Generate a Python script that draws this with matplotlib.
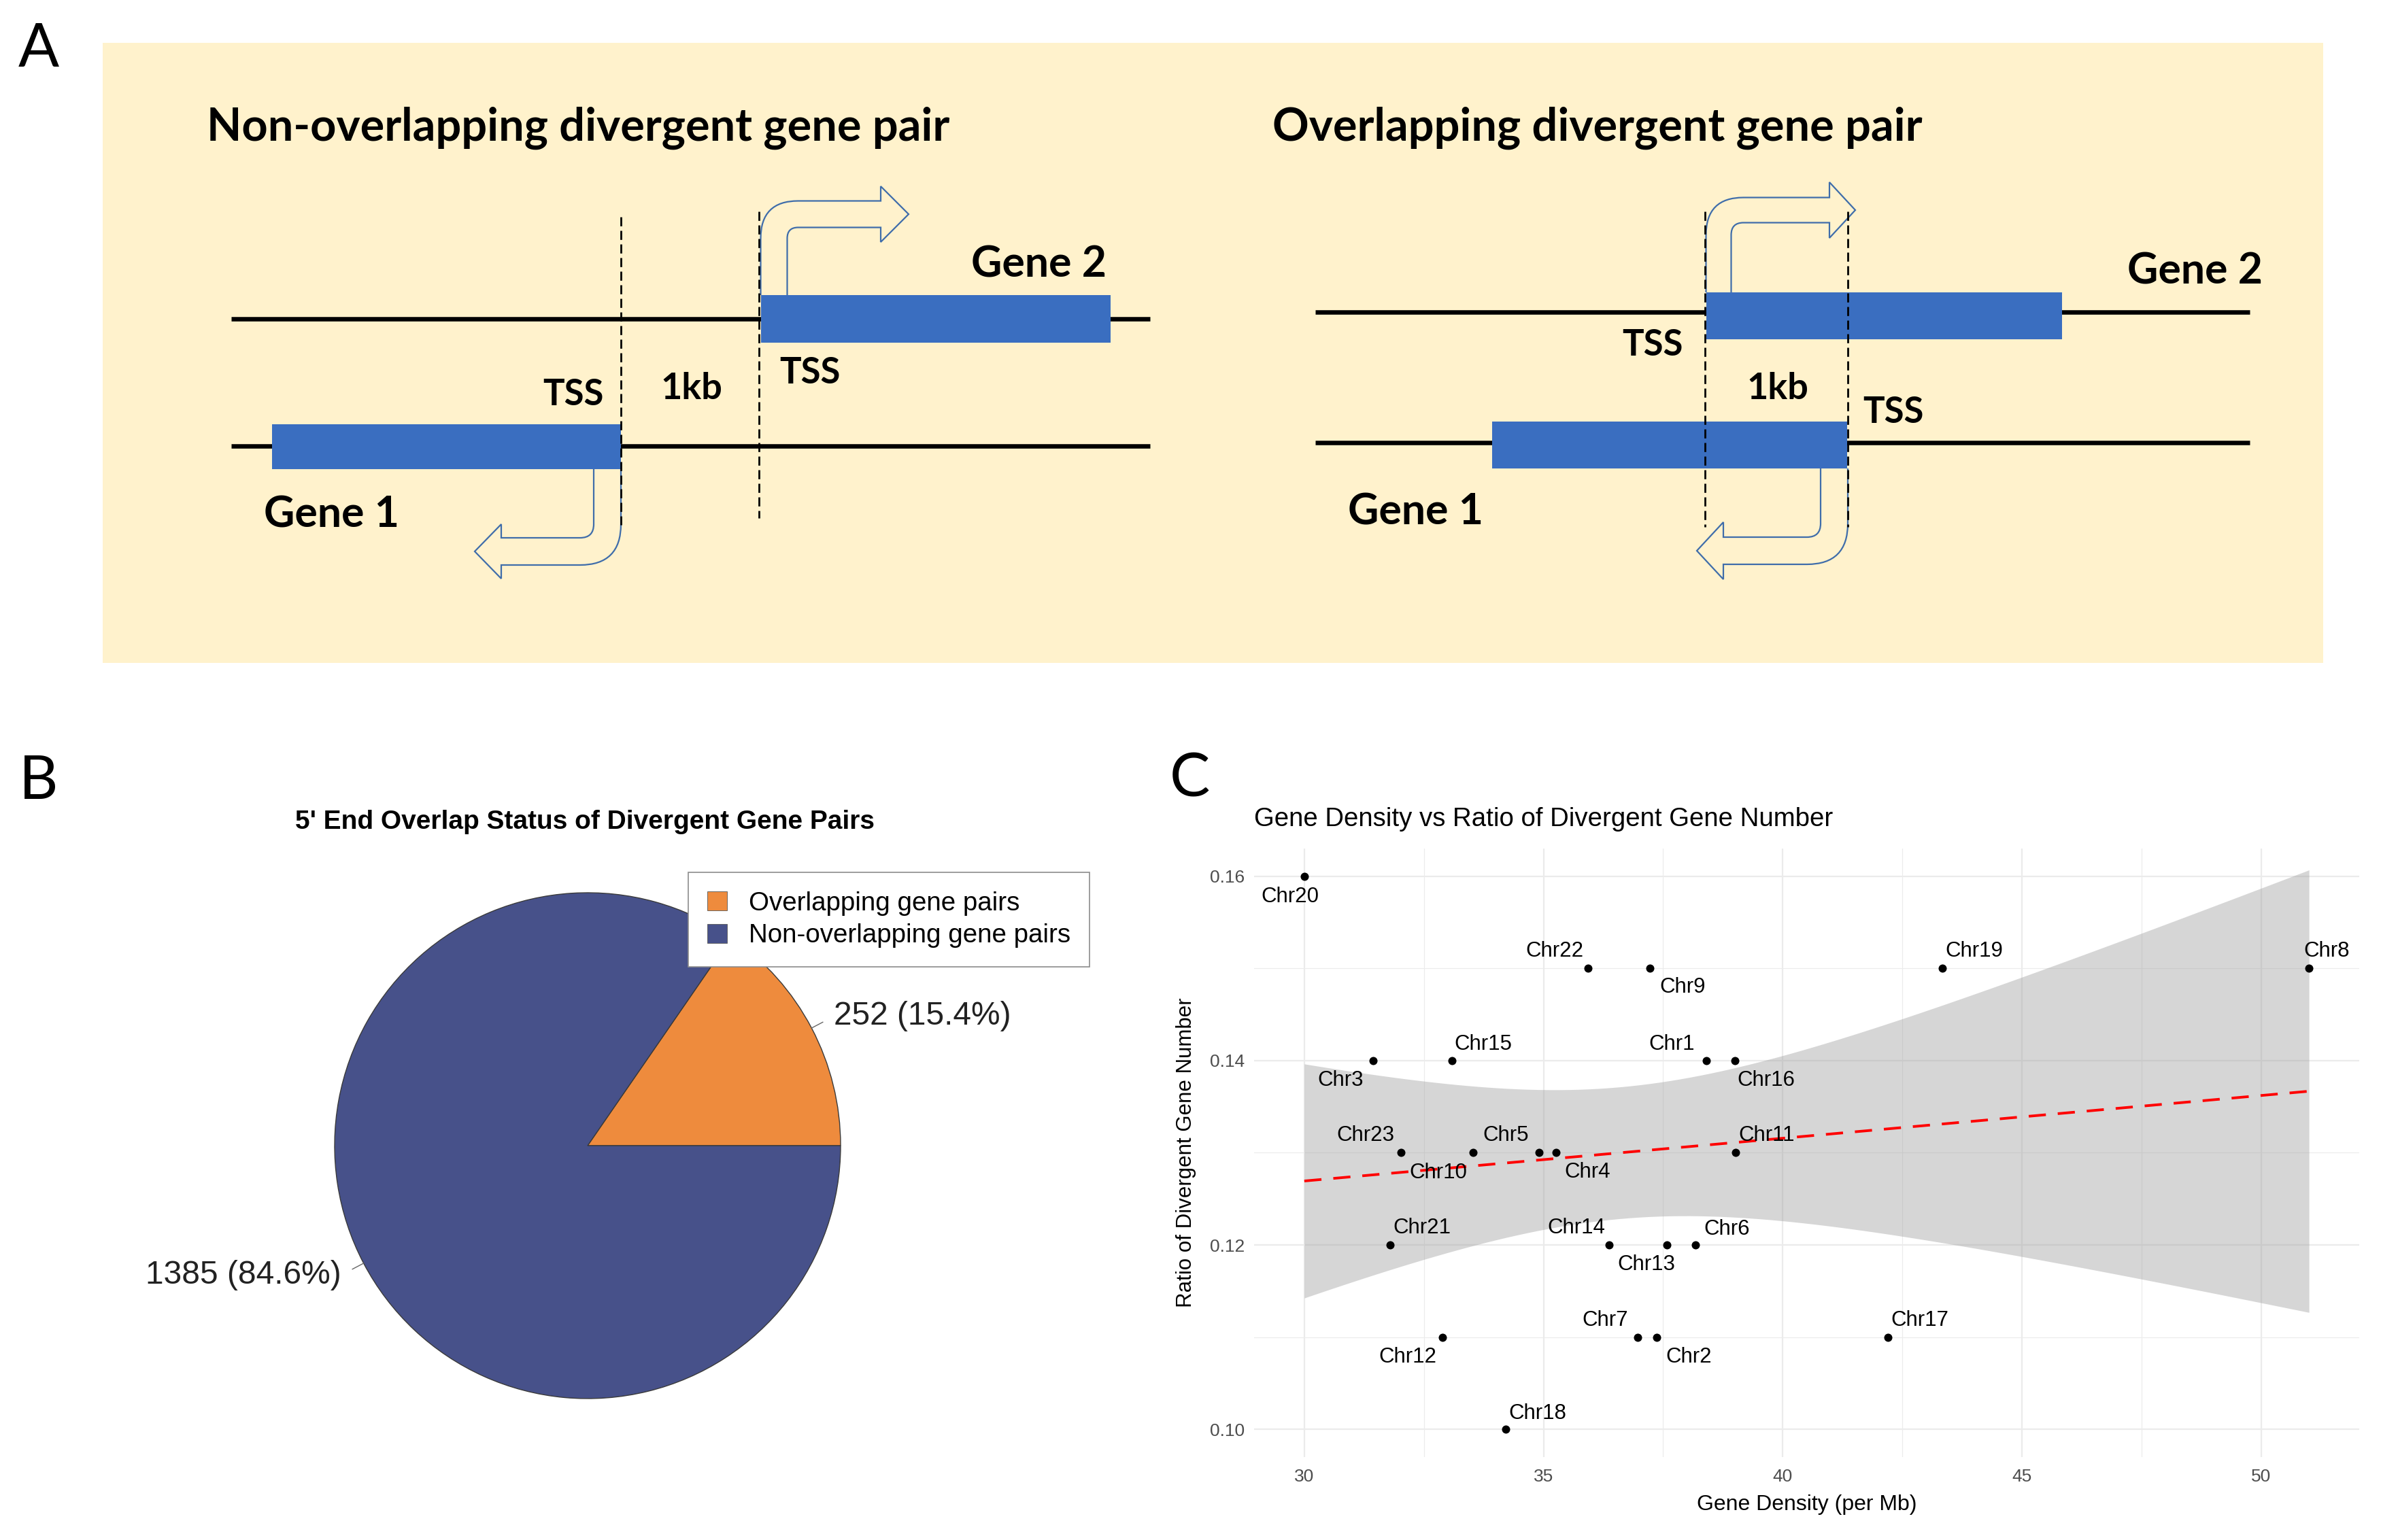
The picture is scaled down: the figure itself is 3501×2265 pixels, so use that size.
import numpy as np
import matplotlib
matplotlib.use("Agg")
import matplotlib.pyplot as plt
from matplotlib.patches import Rectangle, PathPatch
from matplotlib.path import Path

# ---- panel B data
pie_labels = ['Overlapping gene pairs', 'Non-overlapping gene pairs']
pie_counts = [252, 1385]
pie_colors = ['#EE8B3D', '#47518A']

# ---- panel C data
chroms = ['Chr20', 'Chr22', 'Chr9', 'Chr19', 'Chr8', 'Chr3', 'Chr15', 'Chr1', 'Chr16',
          'Chr23', 'Chr10', 'Chr5', 'Chr4', 'Chr11', 'Chr21', 'Chr14', 'Chr13', 'Chr6',
          'Chr12', 'Chr7', 'Chr2', 'Chr17', 'Chr18']
gene_density = [30.0, 35.93, 37.22, 43.34, 51.0, 31.44, 33.09, 38.41, 39.0,
                32.02, 33.53, 34.91, 35.26, 39.01, 31.8, 36.37, 37.58, 38.18,
                32.89, 36.97, 37.36, 42.2, 34.21]
div_ratio = [0.16, 0.15, 0.15, 0.15, 0.15, 0.14, 0.14, 0.14, 0.14,
             0.13, 0.13, 0.13, 0.13, 0.13, 0.12, 0.12, 0.12, 0.12,
             0.11, 0.11, 0.11, 0.11, 0.10]
x_ticks = [30, 35, 40, 45, 50]
y_ticks = [0.10, 0.12, 0.14, 0.16]

# label offsets (pixels, right/down positive) for the repelled chromosome labels
label_off = {'Chr20': (-21, 30), 'Chr22': (-49, -25), 'Chr9': (48, 28), 'Chr19': (47, -25),
             'Chr8': (26, -25), 'Chr3': (-48, 29), 'Chr15': (46, -24), 'Chr1': (-51, -24),
             'Chr16': (46, 29), 'Chr23': (-52, -25), 'Chr10': (-51, 30), 'Chr5': (-49, -25),
             'Chr4': (46, 29), 'Chr11': (46, -25), 'Chr21': (46, -25), 'Chr14': (-48, -25),
             'Chr13': (-30, 29), 'Chr6': (46, -23), 'Chr12': (-51, 29), 'Chr7': (-48, -25),
             'Chr2': (48, 29), 'Chr17': (47, -25), 'Chr18': (47, -23)}

W, H, DPI = 3501, 2265, 100
PT = 72 / DPI  # points per pixel
fig = plt.figure(figsize=(W / DPI, H / DPI), dpi=DPI)
fig.patch.set_facecolor('white')

cv = fig.add_axes([0, 0, 1, 1])
cv.set_xlim(0, W)
cv.set_ylim(H, 0)
cv.axis('off')

SCH = 'Lato'
ARIAL = 'Liberation Sans'
BLUE = '#3A6EC0'
ARROW = '#3F6DAA'

# ================= panel A (schematic)
cv.add_patch(Rectangle((151, 63), 3416 - 151, 975 - 63, fc='#FFF2CC', ec='none', zorder=0))


def bent_arrow(ax, xc, ys, yc, tx, hx, hh, w=39, r=55):
    dv = np.sign(yc - ys)
    dh = np.sign(tx - xc)
    xo, xi = xc - dh * w / 2, xc + dh * w / 2
    yo, yi = yc + dv * w / 2, yc - dv * w / 2
    ri = max(r - w, 8)
    verts = [(xo, ys), (xo, yo - dv * r), (xo, yo), (xo + dh * r, yo),
             (hx, yo), (hx, yc + dv * hh), (tx, yc), (hx, yc - dv * hh), (hx, yi),
             (xi + dh * ri, yi), (xi, yi), (xi, yi - dv * ri), (xi, ys)]
    codes = [Path.MOVETO, Path.LINETO, Path.CURVE3, Path.CURVE3, Path.LINETO,
             Path.LINETO, Path.LINETO, Path.LINETO, Path.LINETO, Path.LINETO,
             Path.CURVE3, Path.CURVE3, Path.LINETO]
    ax.add_patch(PathPatch(Path(verts, codes), fc='none', ec=ARROW, lw=1.6, zorder=2))


def dashed(ax, x, y0, y1):
    ax.plot([x, x], [y0, y1], color='black', lw=2.0, dashes=(4.8, 2.4), zorder=4)


def sch_text(ax, x, y, s, size, ha='center'):
    ax.text(x, y, s, ha=ha, va='baseline', fontsize=size, fontweight='bold',
            family=SCH, color='black', zorder=5)


LW = 4.7
# left: non-overlapping
sch_text(cv, 304, 207, 'Non-overlapping divergent gene pair', 48, ha='left')
cv.plot([340, 1691], [469, 469], color='black', lw=LW, zorder=1, solid_capstyle='butt')
cv.plot([340, 1691], [656, 656], color='black', lw=LW, zorder=1, solid_capstyle='butt')
cv.add_patch(Rectangle((1119, 434), 1633 - 1119, 504 - 434, fc=BLUE, ec='none', zorder=3))
cv.add_patch(Rectangle((400, 624), 913 - 400, 690 - 624, fc=BLUE, ec='none', zorder=3))
dashed(cv, 913, 319, 772)
dashed(cv, 1116, 311, 762)
bent_arrow(cv, 1138, 434, 315, 1336, 1295, 41, w=39, r=55)
bent_arrow(cv, 893, 690, 811, 698, 737, 40, w=40, r=60)
sch_text(cv, 1527, 408, 'Gene 2', 45)
sch_text(cv, 1191, 564, 'TSS', 38)
sch_text(cv, 843, 596, 'TSS', 38)
sch_text(cv, 1017, 587, '1kb', 39)
sch_text(cv, 488, 775, 'Gene 1', 45)

# right: overlapping
sch_text(cv, 1871, 207, 'Overlapping divergent gene pair', 48, ha='left')
cv.plot([1934, 3308], [459, 459], color='black', lw=LW, zorder=1, solid_capstyle='butt')
cv.plot([1934, 3308], [651, 651], color='black', lw=LW, zorder=1, solid_capstyle='butt')
cv.add_patch(Rectangle((2509, 430), 3032 - 2509, 499 - 430, fc=BLUE, ec='none', zorder=3))
cv.add_patch(Rectangle((2194, 620), 2716 - 2194, 689 - 620, fc=BLUE, ec='none', zorder=3))
dashed(cv, 2507, 311, 775)
dashed(cv, 2717, 311, 775)
bent_arrow(cv, 2527, 430, 309, 2728, 2690, 41, w=37, r=55)
bent_arrow(cv, 2697, 689, 810, 2495, 2534, 42, w=40, r=60)
sch_text(cv, 3227, 418, 'Gene 2', 45)
sch_text(cv, 2430, 523, 'TSS', 38)
sch_text(cv, 2614, 587, '1kb', 39)
sch_text(cv, 2784, 622, 'TSS', 38)
sch_text(cv, 2082, 772, 'Gene 1', 45)

# panel letters
for letter, (lx, ly) in {'A': (57, 98), 'B': (57, 1175), 'C': (1749, 1172)}.items():
    cv.text(lx, ly, letter, ha='center', va='baseline', fontsize=64, family=SCH, color='black')

# ================= panel B (pie)
pcx, pcy, pr = 864, 1685, 372
ax_pie = fig.add_axes([(pcx - pr) / W, 1 - (pcy + pr) / H, 2 * pr / W, 2 * pr / H])
total = sum(pie_counts)
pie_text = ['{} ({:.1f}%)'.format(c, c / total * 100) for c in pie_counts]
wedges, texts = ax_pie.pie(pie_counts, colors=pie_colors, labels=pie_text, labeldistance=1.1,
                           startangle=0, counterclock=True,
                           wedgeprops=dict(edgecolor='#3a3a3a', linewidth=1.0),
                           textprops=dict(fontsize=34.5, family=ARIAL, color='#222222'))
for wd in wedges:
    ang = np.deg2rad((wd.theta1 + wd.theta2) / 2)
    ax_pie.plot([np.cos(ang), 1.05 * np.cos(ang)], [np.sin(ang), 1.05 * np.sin(ang)],
                color='#666666', lw=1.0, clip_on=False)
ax_pie.set_xlim(-1, 1)
ax_pie.set_ylim(-1, 1)
ax_pie.set_aspect('equal')
ax_pie.axis('off')

cv.text(860, 1209, "5' End Overlap Status of Divergent Gene Pairs", ha='center', va='center',
        fontsize=28, fontweight='bold', family=ARIAL)

leg = fig.legend(wedges, pie_labels, loc='upper left',
                 bbox_to_anchor=(1012 / W, 1 - 1283 / H), bbox_transform=fig.transFigure,
                 prop=dict(family=ARIAL, size=27.7), frameon=True, fancybox=False,
                 edgecolor='#8c8c8c', framealpha=1, borderpad=0.72, handlelength=0.75,
                 handleheight=0.75, handletextpad=0.85, labelspacing=0.3, borderaxespad=0)
leg.get_frame().set_linewidth(1.2)
for h in leg.legend_handles:
    h.set_edgecolor('#555555')
    h.set_linewidth(0.6)

# ================= panel C (scatter + lm fit)
xd = np.array(gene_density)
yd = np.array(div_ratio)
xpad = 0.05 * (xd.max() - xd.min())
ypad = 0.05 * (yd.max() - yd.min())
left, right, top, bottom = 1844, 3469, 1248, 2143
ax = fig.add_axes([left / W, 1 - bottom / H, (right - left) / W, (bottom - top) / H])
ax.set_xlim(xd.min() - xpad, xd.max() + xpad)
ax.set_ylim(yd.min() - ypad, yd.max() + ypad)

ax.set_xticks(x_ticks)
ax.set_xticks([t + 2.5 for t in x_ticks[:-1]], minor=True)
ax.set_yticks(y_ticks)
ax.set_yticks([t + 0.01 for t in y_ticks[:-1]], minor=True)
ax.set_yticklabels(['{:.2f}'.format(t) for t in y_ticks])
ax.grid(which='major', color='#EBEBEB', lw=1.6)
ax.grid(which='minor', color='#EBEBEB', lw=0.8)
ax.set_axisbelow(True)
for s in ax.spines.values():
    s.set_visible(False)
ax.tick_params(which='both', length=0)
ax.tick_params(axis='x', pad=12, labelsize=19, labelcolor='#4D4D4D')
ax.tick_params(axis='y', pad=10, labelsize=19, labelcolor='#4D4D4D')
for lab in ax.get_xticklabels() + ax.get_yticklabels():
    lab.set_family(ARIAL)

# linear model and 95% confidence band, as geom_smooth(method='lm')
n = len(xd)
slope, intercept = np.polyfit(xd, yd, 1)
resid = yd - (slope * xd + intercept)
s_err = np.sqrt(np.sum(resid ** 2) / (n - 2))
sxx = np.sum((xd - xd.mean()) ** 2)
t_crit = 2.0796  # t(0.975, df=21)
xs = np.linspace(xd.min(), xd.max(), 100)
fit = slope * xs + intercept
half = t_crit * s_err * np.sqrt(1 / n + (xs - xd.mean()) ** 2 / sxx)
ax.fill_between(xs, fit - half, fit + half, color='#999999', alpha=0.4, lw=0, zorder=1)
ax.plot(xs, fit, color='#FF0000', lw=2.8, linestyle=(0, (6.5, 4.5)), zorder=2)

ax.scatter(xd, yd, s=75, color='black', zorder=3, linewidths=0)
for name, x, y in zip(chroms, xd, yd):
    dx, dy = label_off[name]
    ax.annotate(name, (x, y), xytext=(dx * PT, -dy * PT), textcoords='offset points',
                ha='center', va='center', fontsize=22.5, family=ARIAL, color='black', zorder=4)

ax.set_xlabel('Gene Density (per Mb)', fontsize=23, family=ARIAL, labelpad=10)
ax.set_ylabel('Ratio of Divergent Gene Number', fontsize=22.5, family=ARIAL, labelpad=14)
cv.text(left, 1205, 'Gene Density vs Ratio of Divergent Gene Number', ha='left', va='center',
        fontsize=27.6, family=ARIAL)

fig.savefig('out.png', dpi=DPI)
